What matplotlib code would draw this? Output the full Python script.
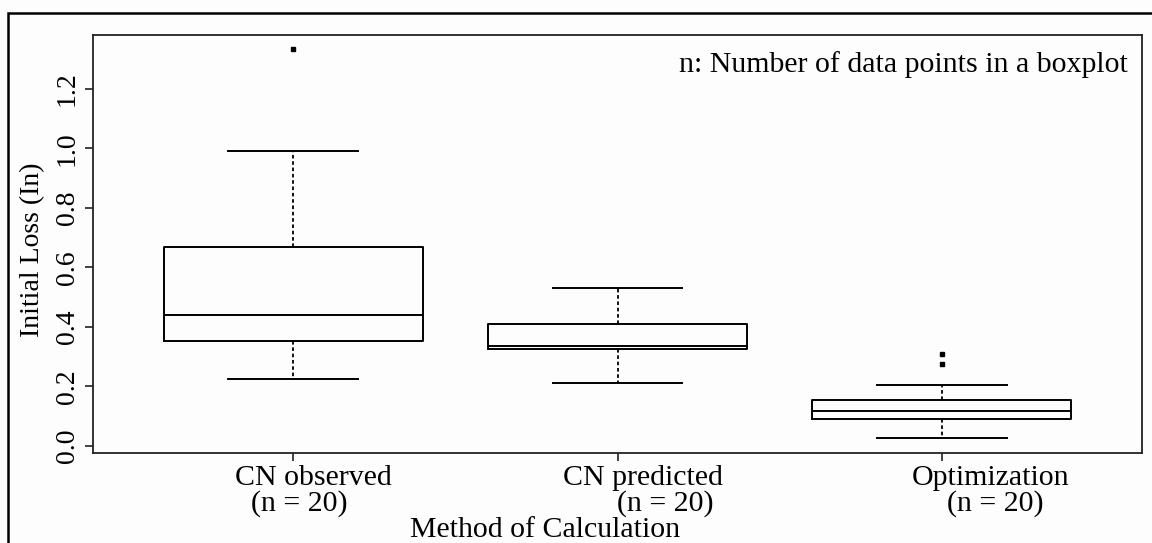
import matplotlib
matplotlib.use("Agg")
import matplotlib.pyplot as plt
from matplotlib.patches import Rectangle
from matplotlib.transforms import blended_transform_factory

# ---- data ----
methods = ["CN observed", "CN predicted", "Optimization"]
n_labels = ["(n = 20)", "(n = 20)", "(n = 20)"]
whisker_low = [0.224, 0.210, 0.027]
q1 = [0.351, 0.325, 0.090]
median = [0.439, 0.337, 0.117]
q3 = [0.668, 0.410, 0.154]
whisker_high = [0.990, 0.532, 0.204]
outliers = [[1.333], [], [0.276, 0.308]]
y_ticks = [0.0, 0.2, 0.4, 0.6, 0.8, 1.0, 1.2]
y_tick_labels = ["0.0", "0.2", "0.4", "0.6", "0.8", "1.0", "1.2"]
xlabel = "Method of Calculation"
ylabel = "Initial Loss (In)"
note = "n: Number of data points in a boxplot"

# ---- layout ----
W, H = 1152, 543
fig = plt.figure(figsize=(W / 100, H / 100), dpi=100)
fig.patch.set_facecolor("#fdfdfd")
plt.rcParams["font.family"] = ["Liberation Serif", "DejaVu Serif"]

ax_l, ax_r, ax_t, ax_b = 93.3, 1141.7, 34.6, 452.6
ax = fig.add_axes([ax_l / W, 1 - ax_b / H, (ax_r - ax_l) / W, (ax_b - ax_t) / H])
ax.set_facecolor("#fdfdfd")

# outer frame (left and top edges visible)
fig.patches.append(Rectangle((8 / W, -0.2), 1.2, 1.2 - 12.8 / H,
                             transform=fig.transFigure, fill=False,
                             edgecolor="black", linewidth=1.8, zorder=0))

stats = []
for i in range(len(methods)):
    stats.append(dict(med=median[i], q1=q1[i], q3=q3[i],
                      whislo=whisker_low[i], whishi=whisker_high[i],
                      fliers=outliers[i], label=methods[i]))

positions = list(range(1, len(methods) + 1))
ax.bxp(stats, positions=positions, widths=0.8, showfliers=True,
       boxprops=dict(color="black", linewidth=1.4),
       medianprops=dict(color="black", linewidth=1.4),
       whiskerprops=dict(color="black", linewidth=1.3, linestyle=(0, (2, 1.5))),
       capprops=dict(color="black", linewidth=1.4),
       flierprops=dict(marker="s", markersize=2.2, markerfacecolor="black",
                       markeredgecolor="black", linestyle="none"),
       capwidths=0.4)

ax.set_xlim(0.383, 3.617)
ax.set_ylim(-0.0232, 1.3828)

for s in ax.spines.values():
    s.set_linewidth(1.3)
    s.set_color("#222222")

ax.set_yticks(y_ticks)
ax.set_yticklabels(y_tick_labels, rotation=90, va="center", fontsize=20)
ax.set_xticks(positions)
ax.set_xticklabels([""] * len(positions))
ax.tick_params(axis="both", direction="out", length=5.5, width=1.2, color="#222222", pad=4)

# x tick labels drawn as two lines with the reference's offsets
trans = blended_transform_factory(ax.transData, ax.transAxes)
line1_offsets = [0.062, 0.078, 0.150]
line2_offsets = [0.017, 0.146, 0.164]
ax_h = ax_b - ax_t
for i, p in enumerate(positions):
    ax.text(p + line1_offsets[i], (ax_b - 485) / ax_h, methods[i], transform=trans,
            ha="center", va="baseline", fontsize=21.5)
    ax.text(p + line2_offsets[i], (ax_b - 511) / ax_h, n_labels[i], transform=trans,
            ha="center", va="baseline", fontsize=21.5)

ax_w = ax_r - ax_l
ax.text((545 - ax_l) / ax_w, (ax_b - 537) / ax_h, xlabel, transform=ax.transAxes,
        ha="center", va="baseline", fontsize=21.5)

ax.set_ylabel(ylabel, fontsize=20, va="center")
ax.yaxis.set_label_coords((32.5 - ax_l) / ax_w, 0.485)

ax.text((1128 - ax_l) / ax_w, (ax_b - 71.7) / ax_h, note, transform=ax.transAxes,
        ha="right", va="baseline", fontsize=21.5)

fig.savefig("out.png", dpi=100, facecolor=fig.get_facecolor())
